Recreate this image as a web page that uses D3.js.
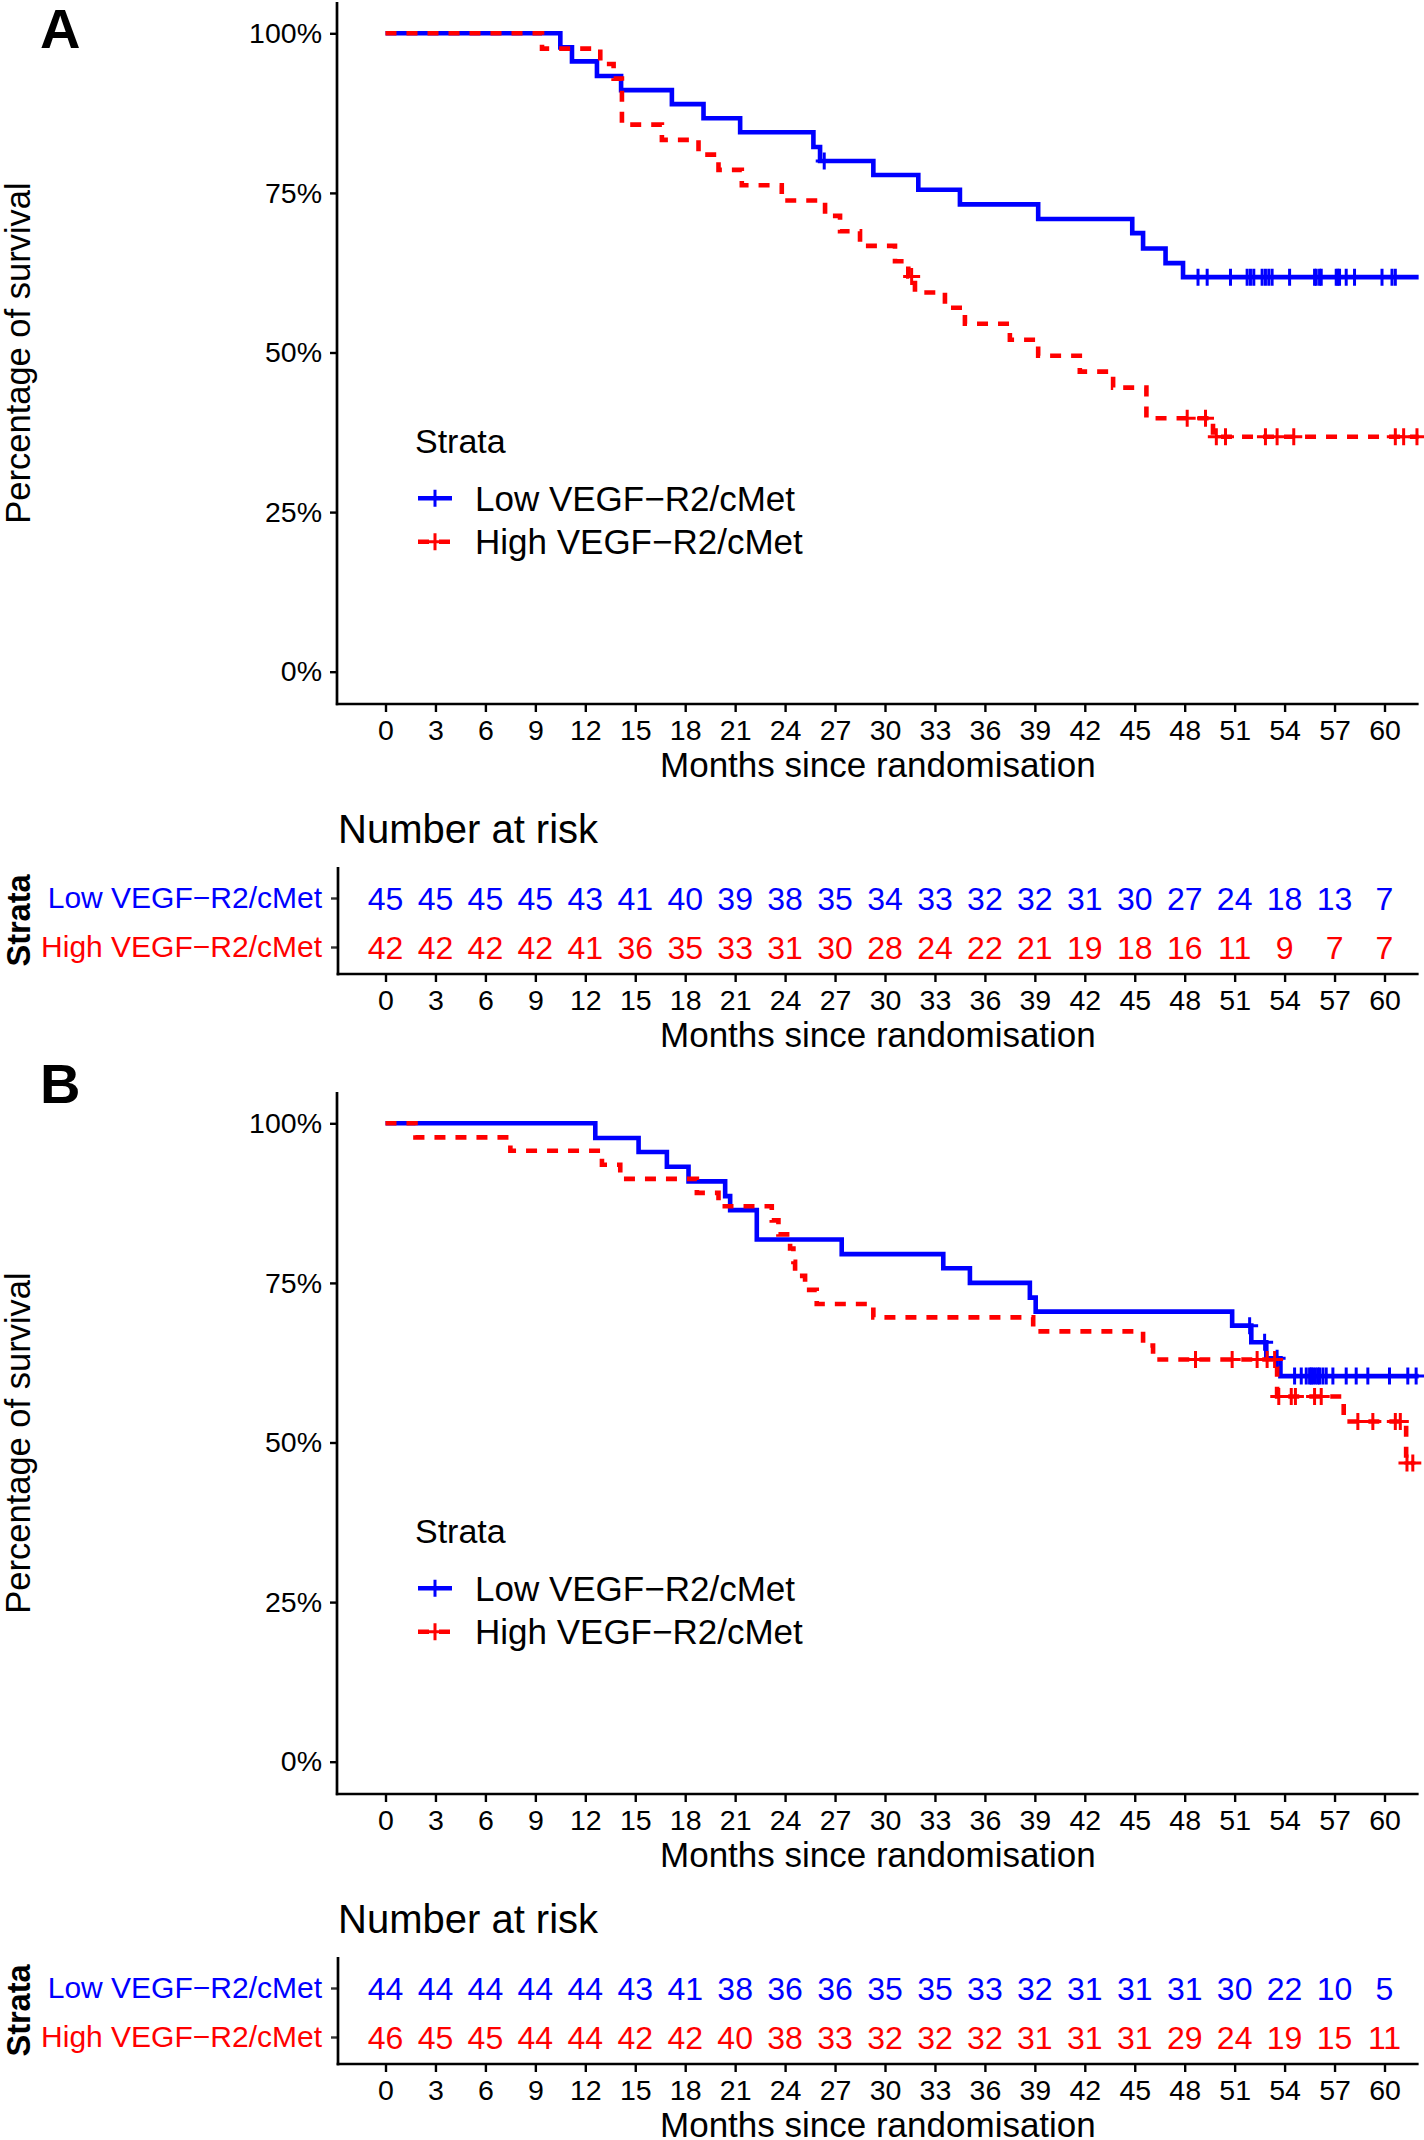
<!DOCTYPE html>
<html><head><meta charset="utf-8">
<script src="https://cdn.jsdelivr.net/npm/d3@7"></script>
<style>
body{margin:0;background:#fff}
svg{display:block}
text{font-family:"Liberation Sans",Arial,Helvetica,sans-serif}
</style>
</head><body>
<svg id="chart" width="1424" height="2140"></svg>
<script>
// ---------------- DATA ----------------
const strata = ["Low VEGF\u2212R2/cMet", "High VEGF\u2212R2/cMet"];
const strataColors = ["#0000FF", "#FF0000"];
const monthTicks = [0,3,6,9,12,15,18,21,24,27,30,33,36,39,42,45,48,51,54,57,60];
const survTicks = [0, 0.25, 0.5, 0.75, 1];
const survTickLabels = ["0%", "25%", "50%", "75%", "100%"];
const panelLabels = ["A", "B"];

// Panel A - Low
const aLowTime = [10.5, 11.2, 12.7, 14.15, 17.2, 19.1, 21.3, 25.7, 26.1, 29.3, 32.0, 34.5, 39.2, 44.85, 45.5, 46.85, 47.9];
const aLowSurv = [0.978, 0.956, 0.933, 0.911, 0.889, 0.867, 0.845, 0.822, 0.800, 0.778, 0.755, 0.732, 0.709, 0.687, 0.663, 0.640, 0.618];
const aLowCensor = [26.35, 48.8, 49.35, 50.75, 51.75, 51.95, 52.15, 52.65, 52.85, 53.05, 53.25, 54.3, 55.8, 55.9, 56.1, 56.2, 57.1, 57.2, 57.3, 57.7, 58.2, 59.85, 60.45, 60.65];
const aLowEnd = 62.05;
// Panel A - High
const aHighTime = [9.4, 12.9, 13.7, 14.2, 16.6, 18.8, 20.0, 21.4, 23.8, 26.4, 27.3, 28.5, 30.6, 31.4, 31.8, 33.6, 34.8, 37.5, 39.2, 41.7, 43.7, 45.7, 49.7];
const aHighSurv = [0.976, 0.952, 0.929, 0.857, 0.833, 0.810, 0.786, 0.762, 0.738, 0.714, 0.690, 0.667, 0.643, 0.619, 0.594, 0.570, 0.545, 0.520, 0.495, 0.470, 0.445, 0.397, 0.368];
const aHighCensor = [31.6, 48.15, 49.25, 49.9, 50.45, 52.85, 53.55, 54.55, 60.65, 61.15, 61.95];
const aHighEnd = 62.05;
// Panel B - Low
const bLowTime = [12.6, 15.2, 16.9, 18.2, 20.4, 20.7, 22.3, 27.4, 33.5, 35.1, 38.7, 39.05, 50.85, 52.0, 52.9, 53.75];
const bLowSurv = [0.977, 0.955, 0.932, 0.909, 0.886, 0.864, 0.818, 0.795, 0.773, 0.750, 0.727, 0.705, 0.683, 0.657, 0.632, 0.604];
const bLowCensor = [51.9, 52.8, 53.55, 54.6, 55.0, 55.3, 55.5, 55.6, 55.7, 55.85, 56.0, 56.1, 56.3, 56.5, 56.9, 57.7, 58.3, 59.0, 60.3, 61.4, 61.9];
const bLowEnd = 62.05;
// Panel B - High
const bHighTime = [1.8, 7.5, 13.0, 14.1, 18.7, 20.0, 23.2, 23.6, 24.3, 24.5, 24.6, 25.2, 25.9, 29.3, 38.9, 45.5, 46.1, 53.55, 57.55, 61.3];
const bHighSurv = [0.978, 0.957, 0.935, 0.913, 0.891, 0.870, 0.848, 0.826, 0.804, 0.783, 0.761, 0.739, 0.717, 0.696, 0.674, 0.652, 0.630, 0.572, 0.533, 0.468];
const bHighCensor = [48.65, 50.85, 52.35, 52.95, 53.4, 53.65, 54.4, 54.65, 55.8, 56.2, 58.4, 59.3, 60.65, 60.95, 61.35, 61.7];
const bHighEnd = 61.75;

// Number at risk
const aRiskLow  = [45,45,45,45,43,41,40,39,38,35,34,33,32,32,31,30,27,24,18,13,7];
const aRiskHigh = [42,42,42,42,41,36,35,33,31,30,28,24,22,21,19,18,16,11,9,7,7];
const bRiskLow  = [44,44,44,44,44,43,41,38,36,36,35,35,33,32,31,31,31,30,22,10,5];
const bRiskHigh = [46,45,45,44,44,42,42,40,38,33,32,32,32,31,31,31,29,24,19,15,11];

const panels = [
  {label: panelLabels[0], curves: [
    {time: aLowTime, surv: aLowSurv, censor: aLowCensor, end: aLowEnd},
    {time: aHighTime, surv: aHighSurv, censor: aHighCensor, end: aHighEnd}],
   risk: [aRiskLow, aRiskHigh]},
  {label: panelLabels[1], curves: [
    {time: bLowTime, surv: bLowSurv, censor: bLowCensor, end: bLowEnd},
    {time: bHighTime, surv: bHighSurv, censor: bHighCensor, end: bHighEnd}],
   risk: [bRiskLow, bRiskHigh]}
];

// ---------------- LAYOUT ----------------
const svg = d3.select("#chart");
const x = d3.scaleLinear().domain([0, 60]).range([385.5, 1384.5]);
const xMin = -2.9, xMax = 62.05;
const panelOffsets = [0, 1090];
const letterBaselines = [48, 1103];
const axisW = 2.7;
const plusPath = "M-8.5,0H8.5M0,-8.5V8.5";
const FONT = "Liberation Sans, Arial, sans-serif";

function survAt(c, t) {
  let s = 1;
  for (let i = 0; i < c.time.length; i++) { if (c.time[i] <= t) s = c.surv[i]; }
  return s;
}

panels.forEach((p, pi) => {
  const off = panelOffsets[pi];
  const g = svg.append("g").attr("transform", `translate(0,${off})`);
  const y = d3.scaleLinear().domain([0, 1]).range([671.7, 33.3]);
  const yTop = y(1.049), yBot = 704;

  // panel letter
  svg.append("text").attr("x", 40).attr("y", letterBaselines[pi])
    .attr("font-size", 56).attr("font-weight", "bold").text(p.label);

  // y title
  g.append("text").attr("transform", `translate(30,${(yTop + yBot) / 2}) rotate(-90)`)
    .attr("text-anchor", "middle").attr("font-size", 34.5).text("Percentage of survival");

  // axes
  const yAxis = d3.axisLeft(y).tickValues(survTicks).tickFormat((d, i) => survTickLabels[i])
    .tickSize(7).tickPadding(8).tickSizeOuter(0);
  const yg = g.append("g").attr("transform", "translate(337,0)").call(yAxis);
  yg.select(".domain").remove();
  yg.selectAll("line").attr("stroke", "#000").attr("stroke-width", 2.4);
  yg.selectAll("text").attr("font-size", 28.5).attr("fill", "#000").attr("font-family", FONT);
  g.append("line").attr("x1", 337).attr("x2", 337).attr("y1", yTop).attr("y2", yBot + axisW / 2)
    .attr("stroke", "#000").attr("stroke-width", axisW);

  const xAxis = d3.axisBottom(x).tickValues(monthTicks).tickSize(8).tickPadding(8).tickSizeOuter(0);
  const xg = g.append("g").attr("transform", `translate(0,${yBot})`).call(xAxis);
  xg.select(".domain").remove();
  xg.selectAll("line").attr("stroke", "#000").attr("stroke-width", 2.4);
  xg.selectAll("text").attr("font-size", 28.5).attr("fill", "#000").attr("font-family", FONT);
  g.append("line").attr("x1", x(xMin) - axisW / 2).attr("x2", x(xMax)).attr("y1", yBot).attr("y2", yBot)
    .attr("stroke", "#000").attr("stroke-width", axisW);

  g.append("text").attr("x", (x(xMin) + x(xMax)) / 2).attr("y", 777).attr("text-anchor", "middle")
    .attr("font-size", 35).text("Months since randomisation");

  // curves
  const line = d3.line().x(d => x(d[0])).y(d => y(d[1])).curve(d3.curveStepAfter);
  p.curves.forEach((c, ci) => {
    const pts = [[0, 1]];
    c.time.forEach((t, i) => pts.push([t, c.surv[i]]));
    pts.push([c.end, c.surv[c.surv.length - 1]]);
    g.append("path").attr("d", line(pts)).attr("fill", "none")
      .attr("stroke", strataColors[ci]).attr("stroke-width", 4.6)
      .attr("stroke-dasharray", ci === 1 ? "11,10" : null);
  });
  p.curves.forEach((c, ci) => {
    g.append("g").selectAll("path").data(c.censor).join("path")
      .attr("d", plusPath)
      .attr("transform", d => `translate(${x(d)},${y(survAt(c, d))})`)
      .attr("stroke", strataColors[ci]).attr("stroke-width", 3).attr("fill", "none");
  });

  // legend
  g.append("text").attr("x", 415).attr("y", 453).attr("font-size", 34).text("Strata");
  const legY = [498.3, 541.7];
  strata.forEach((s, si) => {
    g.append("line").attr("x1", 418).attr("x2", 452).attr("y1", legY[si]).attr("y2", legY[si])
      .attr("stroke", strataColors[si]).attr("stroke-width", 4.6)
      .attr("stroke-dasharray", si === 1 ? "11,10" : null);
    g.append("path").attr("d", plusPath).attr("transform", `translate(435,${legY[si]})`)
      .attr("stroke", strataColors[si]).attr("stroke-width", 3).attr("fill", "none");
    g.append("text").attr("x", 475).attr("y", legY[si]).attr("dy", "0.35em")
      .attr("font-size", 35).text(s);
  });

  // risk table
  g.append("text").attr("x", 338).attr("y", 843).attr("font-size", 40).text("Number at risk");
  const ry = d3.scalePoint().domain(strata).range([898, 947]);
  const rTop = 867, rBot = 974;
  const ryAxis = d3.axisLeft(ry).tickSize(7).tickPadding(9).tickSizeOuter(0);
  const ryg = g.append("g").attr("transform", "translate(338,0)").call(ryAxis);
  ryg.select(".domain").remove();
  ryg.selectAll("line").attr("stroke", "#333").attr("stroke-width", 2.4);
  ryg.selectAll("text").attr("font-size", 30).attr("font-family", FONT)
    .attr("fill", (d, i) => strataColors[i]);
  g.append("line").attr("x1", 338).attr("x2", 338).attr("y1", rTop).attr("y2", rBot + axisW / 2)
    .attr("stroke", "#000").attr("stroke-width", axisW);
  const rxg = g.append("g").attr("transform", `translate(0,${rBot})`).call(xAxis);
  rxg.select(".domain").remove();
  rxg.selectAll("line").attr("stroke", "#000").attr("stroke-width", 2.4);
  rxg.selectAll("text").attr("font-size", 28.5).attr("fill", "#000").attr("font-family", FONT);
  g.append("line").attr("x1", 338 - axisW / 2).attr("x2", x(xMax)).attr("y1", rBot).attr("y2", rBot)
    .attr("stroke", "#000").attr("stroke-width", axisW);
  g.append("text").attr("x", (x(xMin) + x(xMax)) / 2).attr("y", 1047).attr("text-anchor", "middle")
    .attr("font-size", 35).text("Months since randomisation");
  g.append("text").attr("transform", `translate(30,${(rTop + rBot) / 2}) rotate(-90)`)
    .attr("text-anchor", "middle").attr("font-size", 34).attr("font-weight", "bold")
    .attr("textLength", 92).attr("lengthAdjust", "spacingAndGlyphs").text("Strata");

  p.risk.forEach((vals, si) => {
    g.append("g").selectAll("text").data(vals).join("text")
      .attr("x", (d, i) => x(monthTicks[i])).attr("y", ry(strata[si])).attr("dy", "0.36em")
      .attr("text-anchor", "middle").attr("font-size", 32).attr("fill", strataColors[si])
      .text(d => d);
  });
});
</script>
</body></html>
